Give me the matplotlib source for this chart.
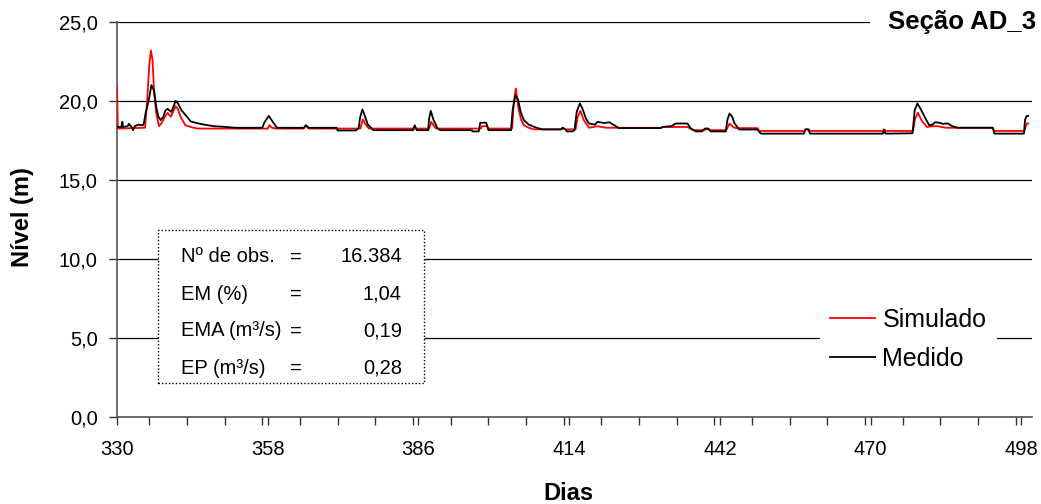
import matplotlib
matplotlib.use("Agg")
import matplotlib.pyplot as plt
from matplotlib.patches import Rectangle
from matplotlib.ticker import MultipleLocator, FixedLocator

plt.rcParams['font.family'] = ['Liberation Sans', 'DejaVu Sans']

# ---------------- data ----------------
medido_dias = [330.0, 330.8, 331.0, 331.1, 332.0, 332.2, 332.6, 333.0, 333.3, 334.0, 334.8,
               335.0, 335.3, 335.9, 336.4, 336.9, 337.3, 337.7, 338.1, 338.6, 339.0, 339.4,
               340.1, 340.9, 341.3, 342.0, 343.0, 343.7, 344.8, 346.2, 348.0, 350.0, 352.0,
               357.0, 357.4, 358.2, 358.9, 359.7, 364.7, 365.1, 365.6, 370.8, 371.0, 374.4,
               374.9, 375.2, 375.6, 376.1, 376.6, 377.2, 377.6, 385.0, 385.3, 385.7, 387.8,
               388.0, 388.3, 388.8, 389.5, 390.0, 395.9, 396.0, 397.2, 397.5, 398.6, 399.0,
               403.2, 403.5, 404.0, 404.5, 405.0, 405.6, 406.5, 407.8, 409.0, 412.5, 412.8,
               413.3, 413.6, 414.6, 415.0, 415.4, 416.0, 416.5, 417.1, 417.7, 418.8, 419.3,
               420.5, 421.5, 422.4, 423.3, 431.0, 431.5, 433.0, 433.8, 436.0, 436.5, 437.5,
               438.7, 439.2, 439.9, 440.3, 443.1, 443.4, 443.8, 444.3, 444.7, 445.6, 449.0,
               449.6, 457.6, 457.9, 458.4, 458.8, 472.3, 472.5, 472.8, 477.8, 478.2, 478.7,
               479.3, 480.2, 480.9, 481.5, 482.0, 482.8, 483.4, 484.3, 485.2, 486.2, 492.7,
               493.0, 498.5, 498.7, 499.0, 499.3]
medido_nivel = [18.35, 18.35, 18.68, 18.35, 18.40, 18.55, 18.40, 18.15, 18.40, 18.50, 18.45,
                18.60, 19.20, 20.05, 21.00, 20.65, 19.60, 19.00, 18.78, 19.00, 19.40, 19.50,
                19.30, 20.00, 19.85, 19.40, 19.00, 18.70, 18.60, 18.50, 18.40, 18.36, 18.30,
                18.30, 18.65, 19.05, 18.70, 18.30, 18.30, 18.46, 18.30, 18.30, 18.13, 18.13,
                18.30, 19.00, 19.46, 19.00, 18.50, 18.30, 18.15, 18.15, 18.46, 18.15, 18.15,
                18.90, 19.37, 18.80, 18.30, 18.15, 18.15, 18.07, 18.07, 18.62, 18.62, 18.15,
                18.15, 19.40, 20.37, 20.10, 19.30, 18.78, 18.50, 18.32, 18.20, 18.20, 18.30,
                18.20, 18.07, 18.07, 18.15, 19.30, 19.84, 19.50, 18.90, 18.57, 18.50, 18.68,
                18.60, 18.65, 18.45, 18.28, 18.28, 18.36, 18.40, 18.57, 18.57, 18.30, 18.07,
                18.07, 18.25, 18.25, 18.07, 18.07, 18.80, 19.20, 19.00, 18.60, 18.19, 18.19,
                17.93, 17.93, 18.20, 18.20, 17.93, 17.93, 18.15, 17.93, 17.95, 19.40, 19.84,
                19.50, 18.90, 18.46, 18.50, 18.65, 18.62, 18.55, 18.58, 18.40, 18.30, 18.30,
                17.93, 17.93, 18.80, 19.05, 19.05]

simulado_dias = [330.0, 330.15, 335.2, 335.6, 336.0, 336.3, 336.6, 336.9, 337.3, 337.8, 338.3,
                 338.9, 339.4, 340.0, 340.9, 341.3, 341.8, 342.7, 344.0, 345.0, 358.0, 358.3,
                 358.8, 359.5, 364.7, 365.1, 365.6, 375.2, 375.7, 376.2, 376.8, 388.0, 388.4,
                 388.9, 389.3, 397.6, 397.8, 398.8, 399.0, 403.4, 403.7, 404.1, 404.6, 405.1,
                 405.6, 406.5, 407.5, 412.6, 412.8, 413.2, 415.2, 415.6, 416.1, 416.7, 417.7,
                 419.3, 420.0, 421.0, 431.0, 431.5, 436.0, 437.0, 439.2, 439.5, 440.0, 443.2,
                 443.8, 444.5, 445.0, 449.0, 449.3, 457.7, 457.9, 458.5, 458.8, 472.3, 472.5,
                 472.9, 477.9, 478.3, 478.8, 479.6, 480.5, 481.5, 482.5, 484.0, 492.7, 493.0,
                 498.6, 499.0, 499.3]
simulado_nivel = [20.94, 18.25, 18.30, 20.00, 22.30, 23.20, 22.60, 20.50, 19.20, 18.40, 18.60,
                  19.00, 19.24, 19.00, 19.67, 19.50, 19.00, 18.46, 18.32, 18.25, 18.25, 18.46,
                  18.30, 18.25, 18.25, 18.46, 18.25, 18.25, 18.83, 18.50, 18.25, 18.25, 18.68,
                  18.40, 18.25, 18.25, 18.40, 18.40, 18.25, 18.25, 19.80, 20.79, 19.50, 18.80,
                  18.46, 18.30, 18.20, 18.20, 18.30, 18.20, 18.20, 19.00, 19.37, 18.80, 18.30,
                  18.40, 18.35, 18.30, 18.30, 18.35, 18.35, 18.15, 18.15, 18.25, 18.15, 18.15,
                  18.57, 18.35, 18.28, 18.28, 18.10, 18.10, 18.20, 18.20, 18.10, 18.10, 18.20,
                  18.10, 18.10, 18.90, 19.25, 18.70, 18.35, 18.40, 18.40, 18.30, 18.30, 18.10,
                  18.10, 18.57, 18.57]

xticks_major = [330, 358, 386, 414, 442, 470, 498]
yticks = [0, 5, 10, 15, 20, 25]
ytick_labels = ["0,0", "5,0", "10,0", "15,0", "20,0", "25,0"]

stats_labels = ["Nº de obs.", "EM (%)", "EMA (m³/s)", "EP (m³/s)"]
stats_values = ["16.384", "1,04", "0,19", "0,28"]

titulo = "Seção AD_3"

# ---------------- figure ----------------
W, H = 1041, 504
fig = plt.figure(figsize=(W / 100, H / 100), dpi=100)


def fx(px):
    return px / W


def fy(py):
    return 1 - py / H


ax = fig.add_axes([fx(117), fy(416.7), (1032 - 117) / W, (416.7 - 22) / H])
ax.set_xlim(330, 500)
ax.set_ylim(0, 25)

ax.plot(simulado_dias, simulado_nivel, color='#ff0000', lw=1.3, label='Simulado', zorder=3)
ax.plot(medido_dias, medido_nivel, color='#000000', lw=1.3, label='Medido', zorder=4)

ax.set_axisbelow(True)
ax.yaxis.grid(True, color='black', lw=0.9)
ax.xaxis.grid(False)
for s in ['top', 'right']:
    ax.spines[s].set_visible(False)
for s in ['left', 'bottom']:
    ax.spines[s].set_color('#555555')
    ax.spines[s].set_linewidth(1.2)

ax.xaxis.set_major_locator(FixedLocator(xticks_major))
ax.xaxis.set_minor_locator(MultipleLocator(7))
ax.set_yticks(yticks)
ax.set_yticklabels(ytick_labels)
ax.tick_params(axis='both', which='both', direction='out', length=6, width=1,
               color='#333333', labelsize=14.5)
ax.tick_params(axis='x', which='major', pad=11)
ax.tick_params(axis='y', which='major', pad=8)

# axis labels
fig.text(fx(23), fy(217), "Nível (m)", rotation=90, ha='center', va='center',
         fontsize=17, fontweight='bold')
fig.text(fx(568), fy(493), "Dias", ha='center', va='center',
         fontsize=17, fontweight='bold')

# title over the top gridline
fig.text(fx(1036), fy(22), titulo, ha='right', va='center', fontsize=18.5,
         fontweight='bold', zorder=10,
         bbox=dict(facecolor='white', edgecolor='none', boxstyle='square,pad=0.7'))

# stats box
box = Rectangle((fx(158), fy(383)), fx(424) - fx(158), fy(230) - fy(383),
                transform=fig.transFigure, facecolor='white', edgecolor='black',
                linestyle=(0, (1, 1.5)), lw=1.0, zorder=5, clip_on=False)
ax.add_patch(box)
rows_y = [257, 294, 331, 368]
for lab, val, ry in zip(stats_labels, stats_values, rows_y):
    ax.text(fx(181), fy(ry), lab, transform=fig.transFigure, ha='left', va='center',
            fontsize=14.5, zorder=6)
    ax.text(fx(296), fy(ry), "=", transform=fig.transFigure, ha='center', va='center',
            fontsize=14.5, zorder=6)
    ax.text(fx(402), fy(ry), val, transform=fig.transFigure, ha='right', va='center',
            fontsize=14.5, zorder=6)

# legend
leg = ax.legend(loc='center left', bbox_to_anchor=(fx(820), fy(339.5)),
                bbox_transform=fig.transFigure, frameon=True, fancybox=False,
                edgecolor='none', facecolor='white', framealpha=1, fontsize=18,
                handlelength=1.8, handletextpad=0.3, borderpad=0.4, labelspacing=0.6,
                borderaxespad=0)
leg.set_zorder(6)

fig.savefig("out.png", dpi=100)
